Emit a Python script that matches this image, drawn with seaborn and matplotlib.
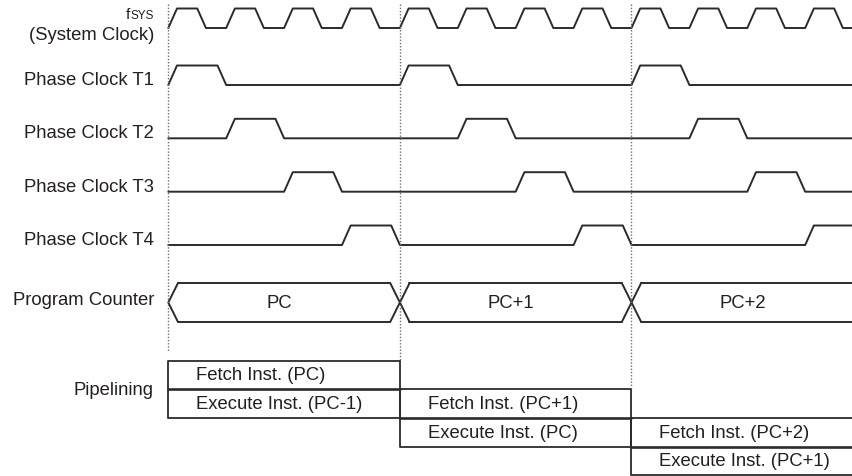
import numpy as np
import pandas as pd
import matplotlib
matplotlib.use("Agg")
import matplotlib.pyplot as plt
import seaborn as sns

# ---- data -------------------------------------------------------------------
# clock rows (top to bottom)
clock_labels = ["Phase Clock T1", "Phase Clock T2", "Phase Clock T3", "Phase Clock T4"]
n_fsys_cycles = 12      # fsys cycles drawn
phases_per_inst = 4     # T1..T4 make one instruction cycle
fsys_high = 0.5         # high time of fsys (in fsys cycles)
phase_high = 0.85       # high time of each phase clock (in fsys cycles)
edge_time = 0.15        # rise / fall time (in fsys cycles)

# program counter bus + pipeline boxes
pc_values = ["PC", "PC+1", "PC+2"]
fetch_labels = ["Fetch Inst. (PC)", "Fetch Inst. (PC+1)", "Fetch Inst. (PC+2)"]
exec_labels = ["Execute Inst. (PC-1)", "Execute Inst. (PC)", "Execute Inst. (PC+1)"]

# ---- layout (y in pixel rows, runs downward) -------------------------------
fsys_low = 28.0
clock_low = [85.0, 138.3, 191.7, 245.0]
swing = 19.5
pc_top, pc_bot = 283.3, 321.7
pc_mid = (pc_top + pc_bot) / 2
bus_half = 0.165
box_top0 = 360.7
row_h = 28.6
x_px0, cyc_px = 168.3, 57.9
W, H = 853, 476
label_x = (154 - x_px0) / cyc_px

line_col = "#2b2b2b"
text_col = "#231f20"
fs = 13.3

sns.set_theme(style="white")
plt.rcParams["font.family"] = ["Liberation Sans", "DejaVu Sans"]


# build a trapezoid pulse train as a long table
def pulse_train(name, starts, high_len, low):
    t = [0.0]
    y = [low]
    for s in starts:
        t += [s, s + edge_time, s + high_len, s + high_len + edge_time]
        y += [low, low - swing, low - swing, low]
    t.append(n_fsys_cycles)
    y.append(low)
    return pd.DataFrame({"signal": name, "t": t, "y": y})


waves = [pulse_train("fsys", np.arange(n_fsys_cycles), fsys_high, fsys_low)]
for i, lab in enumerate(clock_labels):
    waves.append(pulse_train(lab, np.arange(i, n_fsys_cycles, phases_per_inst),
                             phase_high, clock_low[i]))
wave = pd.concat(waves, ignore_index=True)

fig = plt.figure(figsize=(W / 100, H / 100), dpi=100)
ax = fig.add_axes([0, 0, 1, 1])

sns.lineplot(data=wave, x="t", y="y", units="signal", estimator=None,
             sort=False, color=line_col, lw=1.4, ax=ax)

# ---- program counter bus ----------------------------------------------------
bounds = np.arange(0, n_fsys_cycles + 1, phases_per_inst)
ax.plot([bus_half, 0, bus_half], [pc_top, pc_mid, pc_bot], color=line_col, lw=1.4)
for b in bounds[1:]:
    ax.plot([b - bus_half, b + bus_half], [pc_top, pc_bot], color=line_col, lw=1.4)
    ax.plot([b - bus_half, b + bus_half], [pc_bot, pc_top], color=line_col, lw=1.4)
for i, v in enumerate(pc_values):
    x0, x1 = bounds[i] + bus_half, bounds[i + 1] - bus_half
    ax.plot([x0, x1], [pc_top, pc_top], color=line_col, lw=1.4)
    ax.plot([x0, x1], [pc_bot, pc_bot], color=line_col, lw=1.4)
    ax.text((bounds[i] + bounds[i + 1]) / 2 - 0.08, pc_mid + 1, v, ha="center",
            va="center", fontsize=fs, color=text_col)

# ---- pipeline boxes ---------------------------------------------------------
for k in range(len(fetch_labels)):
    x0, x1 = bounds[k], bounds[k + 1]
    top = box_top0 + k * row_h
    ax.plot([x1, x0, x0, x1], [top, top, top + 2 * row_h, top + 2 * row_h],
            color=line_col, lw=1.3)
    ax.plot([x1, x1], [top, top + 2 * row_h], color=line_col, lw=1.3)
    ax.plot([x0, x1], [top + row_h, top + row_h], color=line_col, lw=1.9)
    ax.text(x0 + 0.48, top + row_h / 2 + 1, fetch_labels[k], va="center",
            fontsize=fs, color=text_col)
    ax.text(x0 + 0.48, top + 1.5 * row_h + 1, exec_labels[k], va="center",
            fontsize=fs, color=text_col)

# ---- dotted cycle markers ---------------------------------------------------
dot_bottom = [box_top0 - 9] + [box_top0 + k * row_h for k in range(2)]
ax.vlines(bounds[:3], 4, dot_bottom, colors="#6e6e6e", lw=1.0,
          linestyles=(0, (1, 1.3)))

# ---- row labels -------------------------------------------------------------
ax.text(label_x, 40, "(System Clock)", ha="right", va="baseline",
        fontsize=fs, color=text_col)
for i, lab in enumerate(clock_labels):
    ax.text(label_x, clock_low[i], lab, ha="right", va="baseline",
            fontsize=fs, color=text_col)
ax.text(label_x, 305, "Program Counter", ha="right", va="baseline",
        fontsize=fs, color=text_col)
ax.text(label_x, 395, "Pipelining", ha="right", va="baseline",
        fontsize=fs, color=text_col)

ax.set_xlim(-x_px0 / cyc_px, (W - x_px0) / cyc_px)
ax.set_ylim(H, 0)
ax.axis("off")

# fSYS: small "SYS" after a normal "f"
sys_txt = ax.text(label_x, 19.3, "SYS", ha="right", va="baseline",
                  fontsize=8.5, color=text_col)
fig.canvas.draw()
bb = sys_txt.get_window_extent()
f_x = ax.transData.inverted().transform((bb.x0, 0))[0]
ax.text(f_x, 19.3, "f", ha="right", va="baseline", fontsize=11, color=text_col)

fig.savefig("out.png", dpi=100)
